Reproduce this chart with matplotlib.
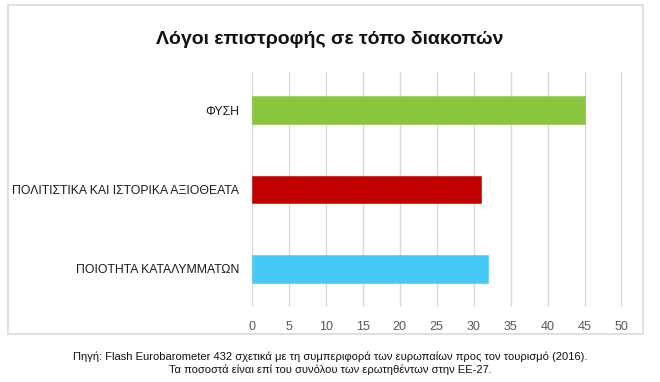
import matplotlib
matplotlib.use("Agg")
import matplotlib.pyplot as plt
from matplotlib.patches import Rectangle

categories = ["ΦΥΣΗ", "ΠΟΛΙΤΙΣΤΙΚΑ ΚΑΙ ΙΣΤΟΡΙΚΑ ΑΞΙΟΘΕΑΤΑ", "ΠΟΙΟΤΗΤΑ ΚΑΤΑΛΥΜΜΑΤΩΝ"]
values = [45, 31, 32]
colors = ["#8CC53F", "#C00000", "#45C9F5"]
xticks = list(range(0, 55, 5))
title = "Λόγοι επιστροφής σε τόπο διακοπών"
source = ("Πηγή: Flash Eurobarometer 432 σχετικά με τη συμπεριφορά των ευρωπαίων προς τον τουρισμό (2016).\n"
          "Τα ποσοστά είναι επί του συνόλου των ερωτηθέντων στην ΕΕ-27.")

plt.rcParams.update({"font.family": ["Liberation Sans", "DejaVu Sans"]})

fig = plt.figure(figsize=(6.6, 3.82), dpi=100)
# outer chart frame
fig.patches.append(Rectangle((8 / 660, 1 - 334 / 382), 635 / 660, 329 / 382,
                             transform=fig.transFigure, fill=False, ec="#d9d9d9", lw=1.2))

ax = fig.add_axes([252 / 660, 1 - 307 / 382, 371.7 / 660, 235 / 382])
ypos = range(len(categories))
ax.barh(ypos, values, height=0.35, color=colors, edgecolor=[c + "AA" for c in colors],
        lw=0.6, zorder=3)
ax.set_ylim(2.48, -0.48)
ax.set_xlim(0, 50.3)
ax.set_xticks(xticks)
ax.set_yticks(list(ypos))
ax.set_yticklabels(categories, fontsize=8.8, color="#1a1a1a")
ax.tick_params(axis="x", colors="#595959", labelsize=9, length=0, pad=10)
ax.tick_params(axis="y", length=0, pad=9)
ax.grid(axis="x", color="#d9d9d9", lw=1, zorder=0)
for s in ax.spines.values():
    s.set_visible(False)

fig.text(0.5, 1 - 40 / 382, title, ha="center", va="center", fontsize=14, fontweight="bold",
         fontstretch="condensed", color="#111111")
fig.text(0.5, 1 - 363 / 382, source, ha="center", va="center", fontsize=8,
         linespacing=1.25, color="#111111")

fig.savefig("out.png", dpi=100)
